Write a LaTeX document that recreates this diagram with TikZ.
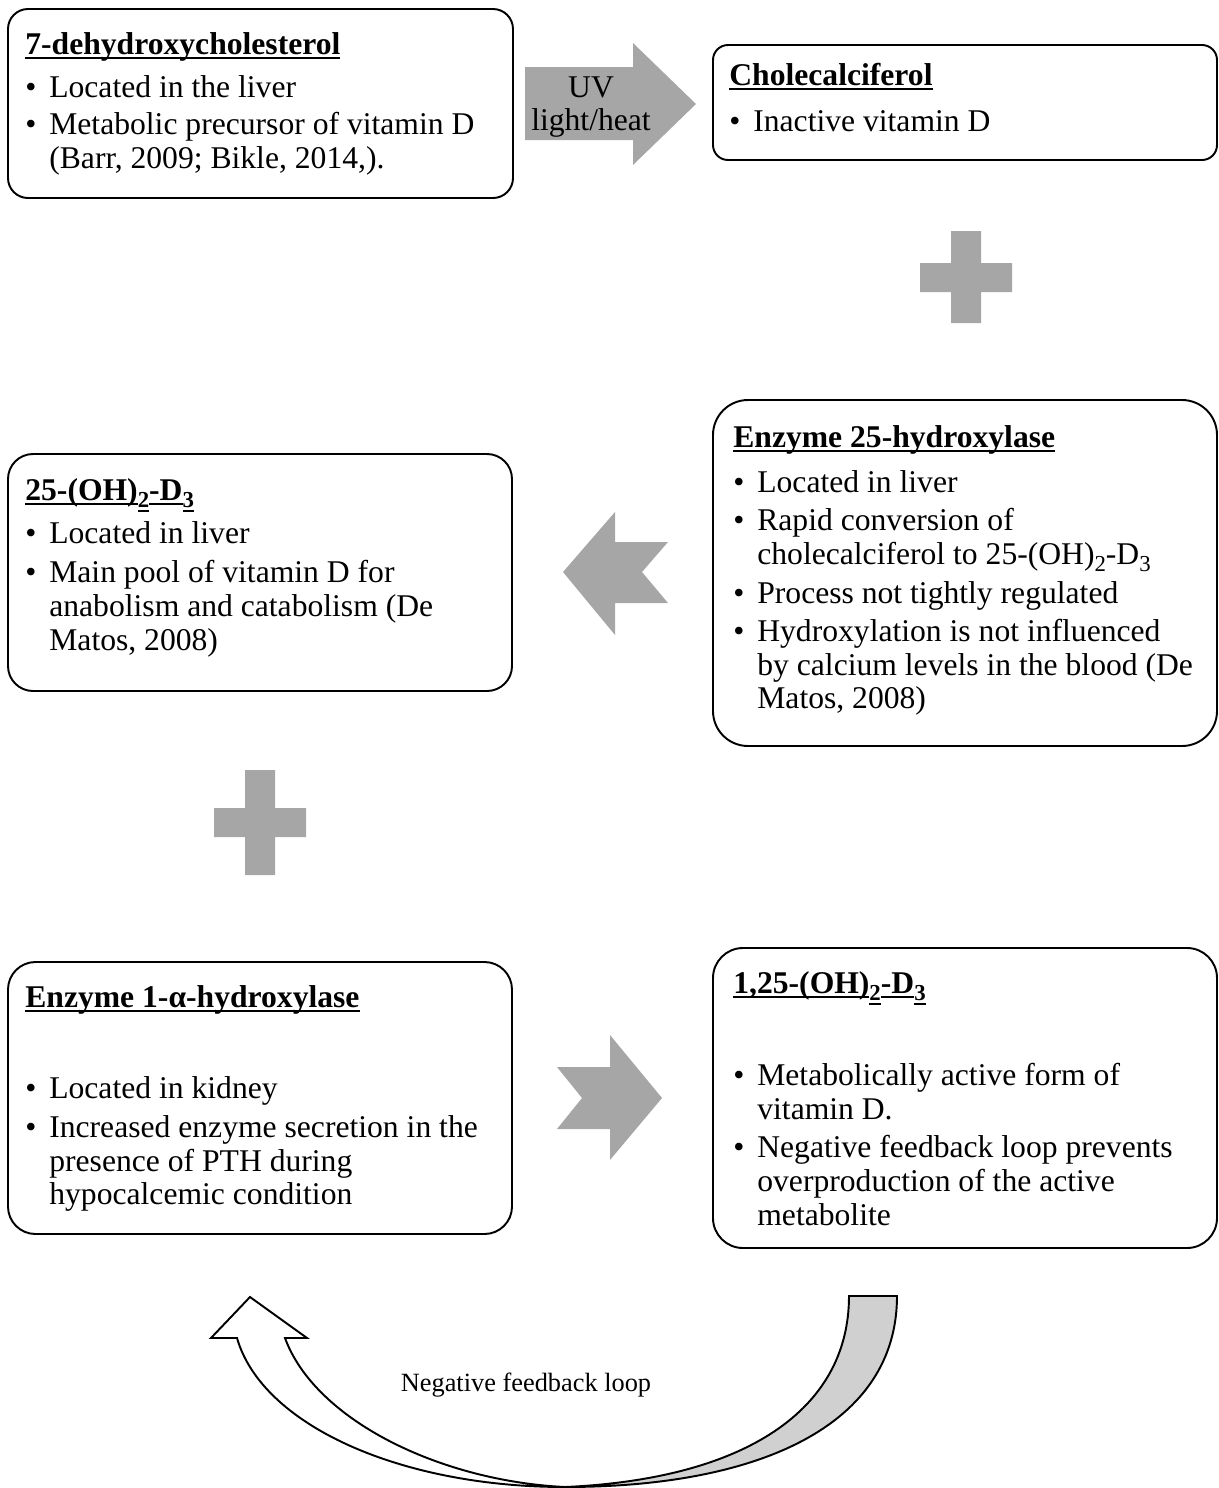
\documentclass[tikz,border=0pt]{standalone}
\usepackage{fontspec}
\setmainfont{Liberation Serif}
\usetikzlibrary{fit}
\definecolor{arrgray}{RGB}{166,166,166}
\definecolor{loopgray}{RGB}{208,208,208}
\newcommand{\ulx}[1]{{\setbox0\hbox{#1}\rlap{\rule[-2.8pt]{\wd0}{1.1pt}}\box0}}
\newcommand{\bul}{\makebox[0.48cm][l]{\textbullet}}
\newcommand{\subx}[1]{\raisebox{-4pt}{\fontsize{13}{13}\selectfont #1}}
\begin{document}
\begin{tikzpicture}[x=0.02cm,y=-0.02cm,
  box/.style={draw, line width=1.1pt, inner sep=0pt},
  txt/.style={anchor=base west, inner sep=0pt, font=\fontsize{18}{21}\selectfont},
  ctxt/.style={anchor=base, inner sep=0pt, font=\fontsize{18}{21}\selectfont},
  blockarrow/.style={fill=arrgray, draw=none},
  loopline/.style={draw=black, line width=1.1pt, line join=miter}]
\useasboundingbox (0,0) rectangle (1219,1488);

% boxes
\node[box, rounded corners=0.4cm, fit={(8,9)(513,198)}] (b1) {};
\node[box, rounded corners=0.3cm, fit={(713,45)(1217,160)}] (b2) {};
\node[box, rounded corners=0.7cm, fit={(713,400)(1217,746)}] (b3) {};
\node[box, rounded corners=0.5cm, fit={(8,454)(512,691)}] (b4) {};
\node[box, rounded corners=0.55cm, fit={(8,962)(512,1234)}] (b5) {};
\node[box, rounded corners=0.6cm, fit={(713,948)(1217,1248)}] (b6) {};

% box 1
\node[txt] (b1t) at (25,54) {\textbf{\ulx{7-dehydroxycholesterol}}};
\node[txt] (b1a) at (25,97) {\bul Located in the liver};
\node[txt] (b1b) at (25,134) {\bul Metabolic precursor of vitamin D};
\node[txt] (b1c) at (49,168) {(Barr, 2009; Bikle, 2014,).};

% box 2
\node[txt] (b2t) at (729,85) {\textbf{\ulx{Cholecalciferol}}};
\node[txt] (b2a) at (729,131) {\bul Inactive vitamin D};

% box 3
\node[txt] (b3t) at (733,447) {\textbf{\ulx{Enzyme 25-hydroxylase}}};
\node[txt] (b3a) at (733,492) {\bul Located in liver};
\node[txt] (b3b) at (733,530) {\bul Rapid conversion of};
\node[txt] (b3c) at (757,564) {cholecalciferol to 25-(OH)\subx{2}-D\subx{3}};
\node[txt] (b3d) at (733,603) {\bul Process not tightly regulated};
\node[txt] (b3e) at (733,641) {\bul Hydroxylation is not influenced};
\node[txt] (b3f) at (757,675) {by calcium levels in the blood (De};
\node[txt] (b3g) at (757,708) {Matos, 2008)};

% box 4
\node[txt] (b4t) at (25,500) {\textbf{\ulx{25-(OH)}\subx{\ulx{2}}\ulx{-D}\subx{\ulx{3}}}};
\node[txt] (b4a) at (25,543) {\bul Located in liver};
\node[txt] (b4b) at (25,582) {\bul Main pool of vitamin D for};
\node[txt] (b4c) at (49,616) {anabolism and catabolism (De};
\node[txt] (b4d) at (49,650) {Matos, 2008)};

% box 5
\node[txt] (b5t) at (25,1007) {\textbf{\ulx{Enzyme 1-α-hydroxylase}}};
\node[txt] (b5a) at (25,1098) {\bul Located in kidney};
\node[txt] (b5b) at (25,1137) {\bul Increased enzyme secretion in the};
\node[txt] (b5c) at (49,1171) {presence of PTH during};
\node[txt] (b5d) at (49,1204) {hypocalcemic condition};

% box 6
\node[txt] (b6t) at (733,993) {\textbf{\ulx{1,25-(OH)}\subx{\ulx{2}}\ulx{-D}\subx{\ulx{3}}}};
\node[txt] (b6a) at (733,1085) {\bul Metabolically active form of};
\node[txt] (b6b) at (757,1119) {vitamin D.};
\node[txt] (b6c) at (733,1157) {\bul Negative feedback loop prevents};
\node[txt] (b6d) at (757,1191) {overproduction of the active};
\node[txt] (b6e) at (757,1225) {metabolite};

% UV block arrow
\fill[blockarrow] (525,67) -- (633,67) -- (633,43) -- (696,104) -- (633,165) -- (633,140) -- (525,140) -- cycle;
\node[ctxt] (uv1) at (591,97) {UV};
\node[ctxt] (uv2) at (591,130) {light/heat};

% plus signs
\fill[blockarrow] (951,231) -- (981,231) -- (981,263) -- (1012,263) -- (1012,292) -- (981,292) -- (981,323) -- (951,323) -- (951,292) -- (920,292) -- (920,263) -- (951,263) -- cycle;
\fill[blockarrow] (245,770) -- (275,770) -- (275,808) -- (306,808) -- (306,837) -- (275,837) -- (275,875) -- (245,875) -- (245,837) -- (214,837) -- (214,808) -- (245,808) -- cycle;

% chevron arrows
\fill[blockarrow] (563,572) -- (615,512) -- (615,542) -- (668,542) -- (642,572) -- (668,603) -- (615,603) -- (615,635) -- cycle;
\fill[blockarrow] (557,1067) -- (610,1067) -- (610,1035) -- (662,1098) -- (610,1160) -- (610,1129) -- (557,1129) -- (582,1098) -- cycle;

% curved negative feedback arrow
\filldraw[fill=loopgray, loopline] (849,1296) -- (897,1296)
  .. controls (897,1425) and (760,1487) .. (565,1487)
  .. controls (745,1479) and (849,1410) .. (849,1296) -- cycle;
\filldraw[fill=white, loopline] (565,1487)
  .. controls (400,1487) and (262,1425) .. (237,1338)
  -- (211,1338) -- (250,1297) -- (307,1338) -- (285,1338)
  .. controls (315,1420) and (440,1481) .. (565,1487) -- cycle;
\node[anchor=base, inner sep=0pt, font=\fontsize{15}{18}\selectfont] (loop) at (526,1391) {Negative feedback loop};
\end{tikzpicture}
\end{document}
